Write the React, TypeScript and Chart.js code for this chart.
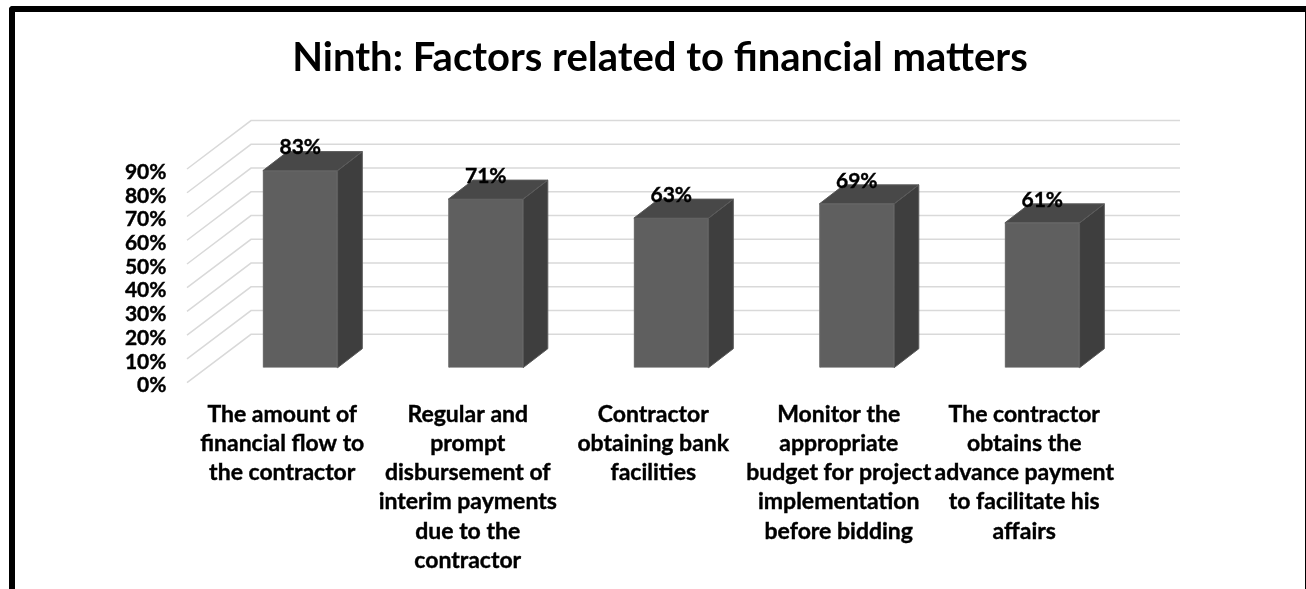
import React, { useEffect, useRef } from "react";
import { Chart, registerables } from "chart.js";

Chart.register(...registerables);

const titleText = "Ninth: Factors related to financial matters";
const categories: string[][] = [
  ["The amount of", "financial flow to", "the contractor"],
  ["Regular and", "prompt", "disbursement of", "interim payments", "due to the", "contractor"],
  ["Contractor", "obtaining bank", "facilities"],
  ["Monitor the", "appropriate", "budget for project", "implementation", "before bidding"],
  ["The contractor", "obtains the", "advance payment", "to facilitate his", "affairs"],
];
const values = [83, 71, 63, 69, 61];
const axisMax = 90;
const axisStep = 10;

const FONT = "Lato, Carlito, Calibri, sans-serif";
const WALL_DX = 64;
const WALL_DY = 48.4;
const FRONT_OFFSET_Y = 15;
const LABEL_OFFSET_Y = 18;
const FRONT_X = 187;
const RIGHT_X = 1180;
const BAR_DX = 24.7;
const BAR_DY = 19;

const scene3d = {
  id: "scene3d",
  beforeDatasetsDraw(chart: any) {
    const { ctx, scales } = chart;
    ctx.save();
    ctx.strokeStyle = "#d9d9d9";
    ctx.lineWidth = 1.5;
    for (const t of scales.y.ticks) {
      const y = scales.y.getPixelForValue(t.value) + FRONT_OFFSET_Y;
      ctx.beginPath();
      ctx.moveTo(FRONT_X, y);
      ctx.lineTo(FRONT_X + WALL_DX, y - WALL_DY);
      ctx.lineTo(RIGHT_X, y - WALL_DY);
      ctx.stroke();
    }
    ctx.restore();
  },
  afterDatasetsDraw(chart: any) {
    const { ctx } = chart;
    const bars = chart.getDatasetMeta(0).data;
    ctx.save();
    bars.forEach((b: any) => {
      const l = b.x - b.width / 2;
      const r = b.x + b.width / 2;
      ctx.lineWidth = 1;
      ctx.fillStyle = "#3e3e3e";
      ctx.strokeStyle = "#5c5c5c";
      ctx.beginPath();
      ctx.moveTo(r, b.y);
      ctx.lineTo(r + BAR_DX, b.y - BAR_DY);
      ctx.lineTo(r + BAR_DX, b.base - BAR_DY);
      ctx.lineTo(r, b.base);
      ctx.closePath();
      ctx.fill();
      ctx.stroke();
      ctx.fillStyle = "#484848";
      ctx.strokeStyle = "#5a5a5a";
      ctx.beginPath();
      ctx.moveTo(l, b.y);
      ctx.lineTo(l + BAR_DX, b.y - BAR_DY);
      ctx.lineTo(r + BAR_DX, b.y - BAR_DY);
      ctx.lineTo(r, b.y);
      ctx.closePath();
      ctx.fill();
      ctx.stroke();
    });
    ctx.fillStyle = "#000";
    ctx.strokeStyle = "#000";
    ctx.lineWidth = 0.4;
    ctx.font = `bold 21px ${FONT}`;
    ctx.textAlign = "center";
    ctx.textBaseline = "middle";
    bars.forEach((b: any, i: number) => {
      ctx.fillText(`${values[i]}%`, b.x, b.y - 23);
      ctx.strokeText(`${values[i]}%`, b.x, b.y - 23);
    });
    ctx.restore();
  },
};

export default function App() {
  const ref = useRef<HTMLCanvasElement>(null);
  useEffect(() => {
    document.body.style.margin = "0";
    const titleSize = 40;
    const chart = new Chart(ref.current!, {
      type: "bar",
      data: {
        labels: categories,
        datasets: [
          {
            data: values,
            xAxisID: "x",
            yAxisID: "y",
            backgroundColor: "#5f5f5f",
            borderColor: "#767676",
            borderWidth: 1,
            barThickness: 74.7,
          },
        ],
      },
      options: {
        animation: false,
        responsive: false,
        layout: { padding: { right: 0, top: 0, left: 14, bottom: 0 } },
        plugins: {
          legend: { display: false },
          tooltip: { enabled: false },
          title: {
            display: true,
            text: titleText,
            color: "#000",
            font: { family: FONT, size: titleSize, weight: "bold", lineHeight: 1.2 },
            padding: { top: 58 - 0.6 * titleSize, bottom: 154 - 58 - 0.6 * titleSize },
          },
        },
        scales: {
          x: {
            grid: { display: false, drawTicks: false },
            border: { display: false },
            afterFit: (s: any) => {
              s.height = 221.3;
            },
            ticks: {
              color: "#000",
              font: { family: FONT, size: 23, weight: "bold", lineHeight: 1.27 },
              padding: 32,
              labelOffset: -18,
              maxRotation: 0,
              autoSkip: false,
              textStrokeColor: "#000",
              textStrokeWidth: 0.4,
            },
          },
          y: {
            min: 0,
            max: axisMax,
            grid: { display: false, drawTicks: false },
            border: { display: false },
            afterFit: (s: any) => {
              s.width = 193.5;
            },
            ticks: {
              color: "#000",
              font: { family: FONT, size: 21, weight: "bold" },
              stepSize: axisStep,
              autoSkip: false,
              padding: 41,
              labelOffset: LABEL_OFFSET_Y,
              textStrokeColor: "#000",
              textStrokeWidth: 0.4,
              callback: (v: any) => `${v}%`,
            },
          },
          spacer: {
            type: "linear",
            axis: "y",
            position: "right",
            min: 0,
            max: axisMax,
            grid: { display: false, drawTicks: false },
            border: { display: false },
            ticks: { display: false },
            afterFit: (s: any) => {
              s.width = 171;
            },
          },
        },
      },
      plugins: [scene3d],
    } as any);
    return () => chart.destroy();
  }, []);
  return (
    <div style={{ position: "relative", width: 1306, height: 589, overflow: "hidden", background: "#fff" }}>
      <canvas ref={ref} width={1306} height={589} style={{ position: "absolute", left: 0, top: 0, width: 1306, height: 589 }} />
      <div
        style={{
          position: "absolute",
          left: 9,
          top: 6,
          width: 1306 - 9 - 6 - 1,
          height: 640,
          borderLeft: "6px solid #000",
          borderTop: "6px solid #000",
          borderRight: "1px solid #000",
          borderTopLeftRadius: 4,
          boxSizing: "content-box",
        }}
      />
    </div>
  );
}
